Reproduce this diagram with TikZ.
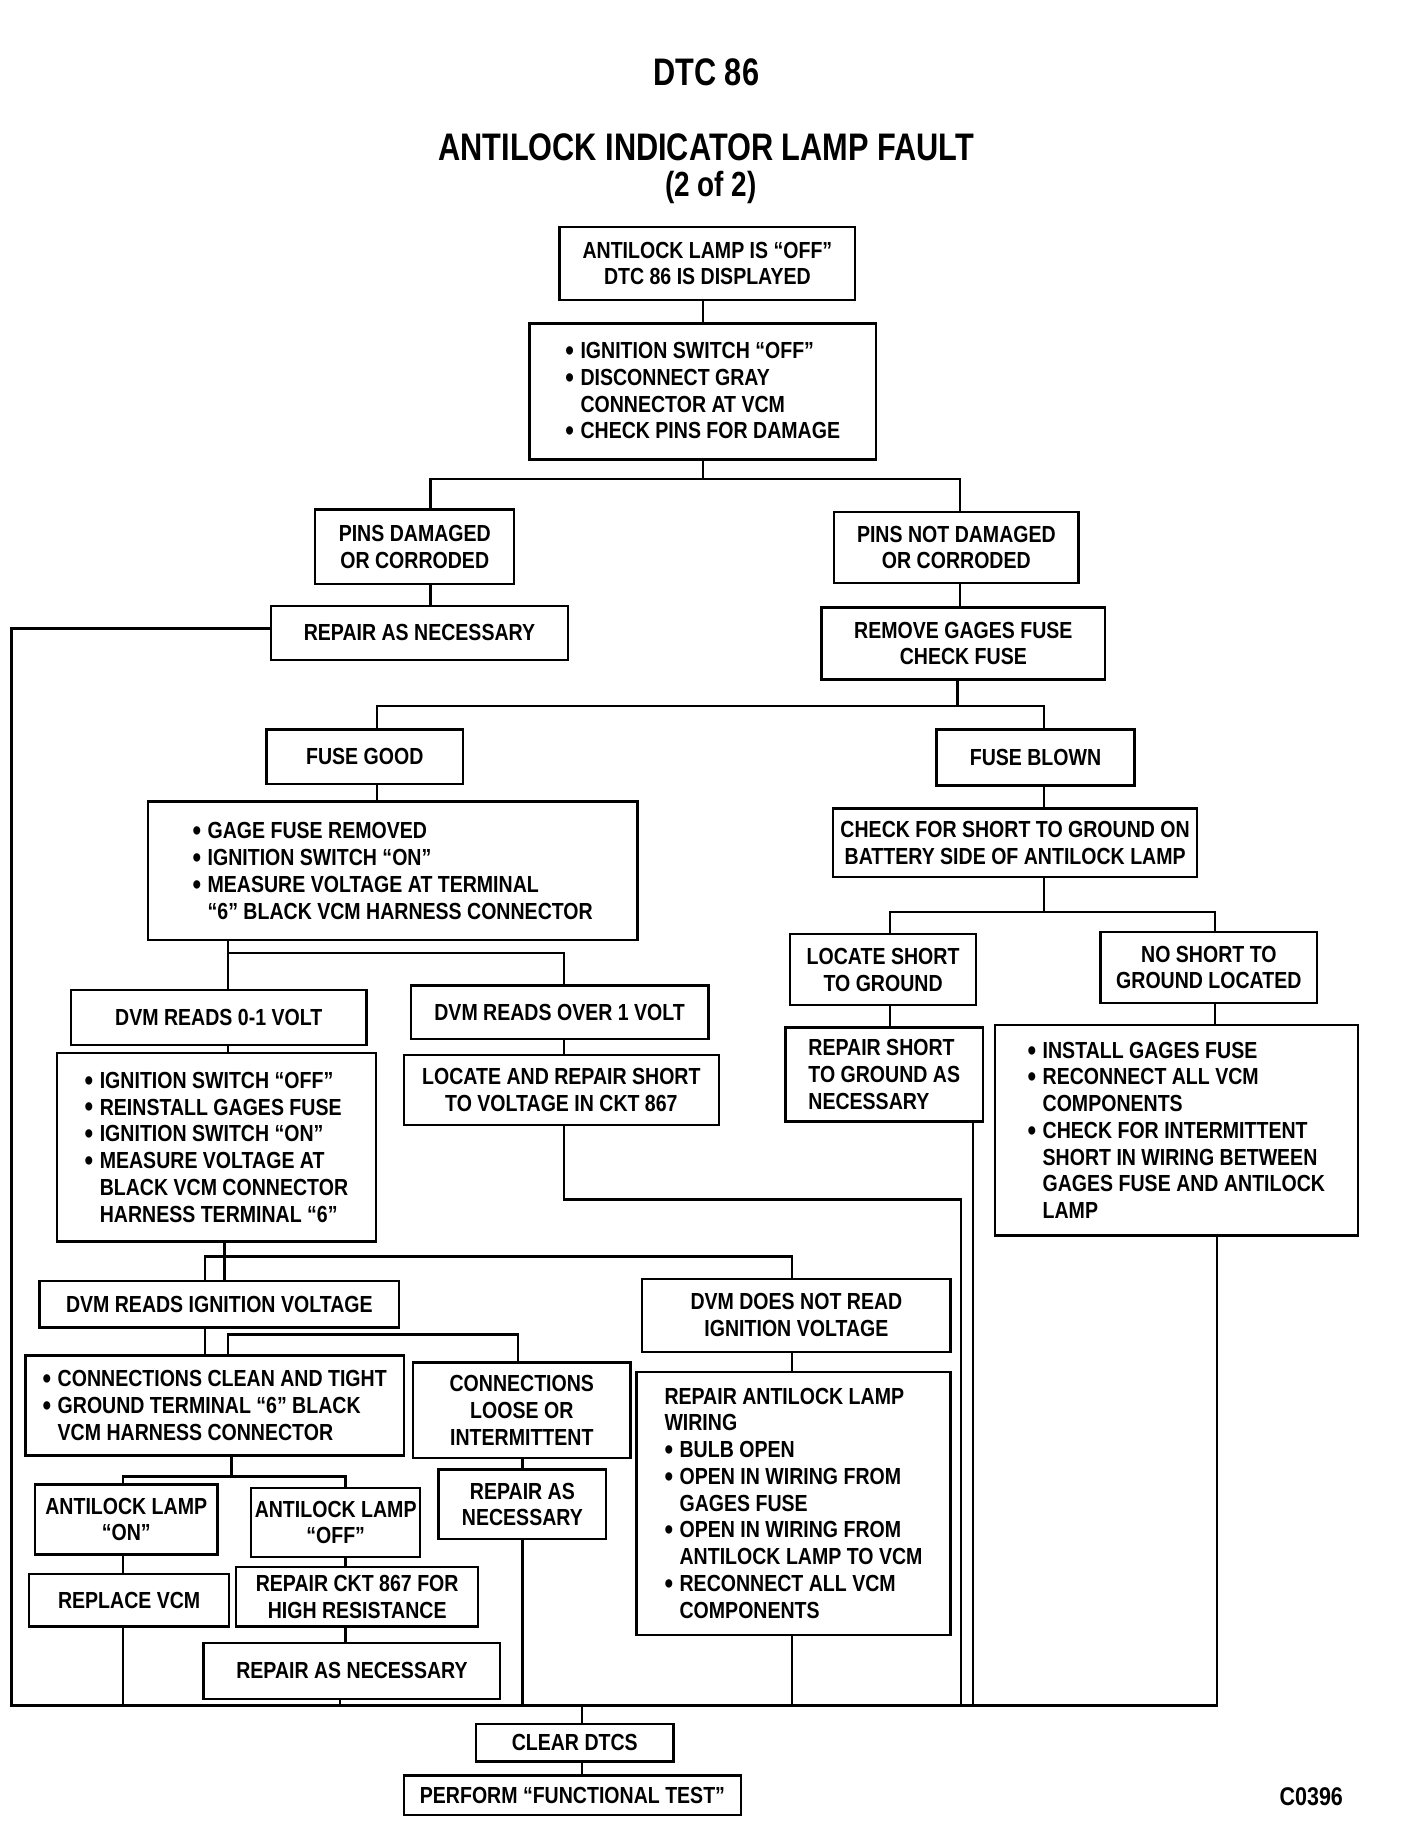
\documentclass[tikz,border=0pt]{standalone}
\usepackage{fontspec}
\newfontfamily\boxfont[FakeStretch=0.84]{Liberation Sans}
\newfontfamily\titlefont[FakeStretch=0.8]{Liberation Sans}
\newcommand{\bu}{\makebox[13pt][l]{\raisebox{-1.6pt}{\fontsize{25}{23}\selectfont•}}}
\newcommand{\ind}{\hspace*{13pt}}
\begin{document}
\begin{tikzpicture}[x=1pt,y=-1pt,
  bx/.style={draw, line width=2pt, inner sep=2pt, align=center,
    font=\boxfont\bfseries\fontsize{20}{23}\selectfont},
  lbx/.style={bx, align=left},
  cn/.style={line width=1.9pt},
  cnb/.style={line width=2.6pt},
  ttl/.style={font=\titlefont\bfseries\fontsize{33}{36}\selectfont, inner sep=0pt}]
\useasboundingbox (0,0) rectangle (1210,1566);
\fill[white] (0,0) rectangle (1210,1566);

% titles
\node[ttl] (t1) at (607,62) {DTC 86};
\node[ttl] (t2) at (607,127) {ANTILOCK INDICATOR LAMP FAULT};
\node[ttl, font=\titlefont\bfseries\fontsize{30}{34}\selectfont] (t3) at (611,161) {(2 of 2)};

% boxes
\node[bx, minimum width=254, minimum height=63] (b1) at (608,226.5) {ANTILOCK LAMP IS “OFF”\\DTC 86 IS DISPLAYED};
\node[lbx, minimum width=298, minimum height=117] (b2) at (604,336.5) {\bu IGNITION SWITCH “OFF”\\\bu DISCONNECT GRAY\\\ind CONNECTOR AT VCM\\\bu CHECK PINS FOR DAMAGE};
\node[bx, minimum width=171, minimum height=64] (pd) at (356.5,470) {PINS DAMAGED\\OR CORRODED};
\node[bx, minimum width=210, minimum height=61] (pnd) at (822,470.5) {PINS NOT DAMAGED\\OR CORRODED};
\node[bx, minimum width=255, minimum height=46] (ran1) at (360.5,544) {REPAIR AS NECESSARY};
\node[bx, minimum width=244, minimum height=62] (rgf) at (828,553) {REMOVE GAGES FUSE\\CHECK FUSE};
\node[bx, minimum width=169, minimum height=47] (fg) at (313.5,650.5) {FUSE GOOD};
\node[bx, minimum width=170, minimum height=48] (fb) at (890,651) {FUSE BLOWN};
\node[lbx, minimum width=421, minimum height=119] (gfr) at (337.5,748.5) {\bu GAGE FUSE REMOVED\\\bu IGNITION SWITCH “ON”\\\bu MEASURE VOLTAGE AT TERMINAL\\\ind “6” BLACK VCM HARNESS CONNECTOR};
\node[bx, minimum width=313, minimum height=59] (cfs) at (872.5,724.5) {CHECK FOR SHORT TO GROUND ON\\BATTERY SIDE OF ANTILOCK LAMP};
\node[bx, minimum width=254, minimum height=47] (dvm0) at (188,874.5) {DVM READS 0-1 VOLT};
\node[bx, minimum width=256, minimum height=46] (dvmo) at (481,870) {DVM READS OVER 1 VOLT};
\node[bx, minimum width=160, minimum height=61] (lsg) at (759,833.5) {LOCATE SHORT\\TO GROUND};
\node[bx, minimum width=186, minimum height=61] (nsg) at (1039,831.5) {NO SHORT TO\\GROUND LOCATED};
\node[lbx, minimum width=274, minimum height=162] (igs) at (186,986) {\bu IGNITION SWITCH “OFF”\\\bu REINSTALL GAGES FUSE\\\bu IGNITION SWITCH “ON”\\\bu MEASURE VOLTAGE AT\\\ind BLACK VCM CONNECTOR\\\ind HARNESS TERMINAL “6”};
\node[bx, minimum width=271, minimum height=60] (lrs) at (482.5,937) {LOCATE AND REPAIR SHORT\\TO VOLTAGE IN CKT 867};
\node[lbx, minimum width=170, minimum height=81] (rsg) at (760,923.5) {REPAIR SHORT\\TO GROUND AS\\NECESSARY};
\node[lbx, minimum width=312, minimum height=181] (igf) at (1011,971.5) {\bu INSTALL GAGES FUSE\\\bu RECONNECT ALL VCM\\\ind COMPONENTS\\\bu CHECK FOR INTERMITTENT\\\ind SHORT IN WIRING BETWEEN\\\ind GAGES FUSE AND ANTILOCK\\\ind LAMP};
\node[bx, minimum width=309, minimum height=40] (driv) at (188.5,1121) {DVM READS IGNITION VOLTAGE};
\node[bx, minimum width=265, minimum height=63] (dnr) at (684.5,1130.5) {DVM DOES NOT READ\\IGNITION VOLTAGE};
\node[lbx, minimum width=325, minimum height=86] (cct) at (184.5,1208) {\bu CONNECTIONS CLEAN AND TIGHT\\\bu GROUND TERMINAL “6” BLACK\\\ind VCM HARNESS CONNECTOR};
\node[bx, minimum width=187, minimum height=82] (cli) at (448.5,1212) {CONNECTIONS\\LOOSE OR\\INTERMITTENT};
\node[lbx, minimum width=270, minimum height=226] (ral) at (682,1292) {REPAIR ANTILOCK LAMP\\WIRING\\\bu BULB OPEN\\\bu OPEN IN WIRING FROM\\\ind GAGES FUSE\\\bu OPEN IN WIRING FROM\\\ind ANTILOCK LAMP TO VCM\\\bu RECONNECT ALL VCM\\\ind COMPONENTS};
\node[bx, minimum width=157, minimum height=60] (alon) at (108.5,1306) {ANTILOCK LAMP\\“ON”};
\node[bx, minimum width=145, minimum height=59] (aloff) at (288.5,1308.5) {ANTILOCK LAMP\\“OFF”};
\node[bx, minimum width=144, minimum height=60] (ran2) at (449,1293) {REPAIR AS\\NECESSARY};
\node[bx, minimum width=172, minimum height=45] (rvcm) at (111,1375.5) {REPLACE VCM};
\node[bx, minimum width=208, minimum height=51] (rckt) at (307,1372.5) {REPAIR CKT 867 FOR\\HIGH RESISTANCE};
\node[bx, minimum width=255, minimum height=48] (ran3) at (302.5,1436) {REPAIR AS NECESSARY};
\node[bx, minimum width=170, minimum height=32] (cd) at (494,1498) {CLEAR DTCS};
\node[bx, minimum width=290, minimum height=34] (pft) at (492,1543) {PERFORM “FUNCTIONAL TEST”};
\node[font=\boxfont\bfseries\fontsize{22}{24}\selectfont, inner sep=0pt] (code) at (1127,1544) {C0396};

% bottom collector line
\coordinate (bl) at (10,1466);
\coordinate (br) at (1046,1466);

% connectors
\draw[cn] ([xshift=-4pt]b1.south) -- (b2.north);
\draw[cn] (b2.south) -- ++(0,16) coordinate (s1);
\draw[cn] ([xshift=13.5pt]pd.north) |- (s1) -| ([xshift=3pt]pnd.north);
\draw[cn] ([xshift=13.5pt]pd.south) -- ([xshift=9.5pt]ran1.north);
\draw[cn] ([xshift=3pt]pnd.south) -- ([xshift=-3pt]rgf.north);
\draw[cn] ([xshift=-5pt]rgf.south) -- ++(0,22) coordinate (s2);
\draw[cn] ([xshift=10.5pt]fg.north) |- (s2) -| ([xshift=7pt]fb.north);
\draw[cn] ([xshift=10.5pt]fg.south) -- ([xshift=-13.5pt]gfr.north);
\draw[cn] ([xshift=7pt]fb.south) -- ([xshift=24.5pt]cfs.north);
\draw[cn] ([xshift=-141.5pt]gfr.south) -- ++(0,10) coordinate (s3);
\draw[cn] ([xshift=8pt]dvm0.north) |- (s3) -| ([xshift=4pt]dvmo.north);
\draw[cn] ([xshift=24.5pt]cfs.south) -- ++(0,29) coordinate (s4);
\draw[cn] ([xshift=6pt]lsg.north) |- (s4) -| ([xshift=5pt]nsg.north);
\draw[cn] ([xshift=8pt]dvm0.south) -- ([xshift=10pt]igs.north);
\draw[cn] ([xshift=4pt]dvmo.south) -- ([xshift=2.5pt]lrs.north);
\draw[cn] ([xshift=6pt]lsg.south) -- ([xshift=5pt]rsg.north);
\draw[cn] ([xshift=5pt]nsg.south) -- ([xshift=33pt]igf.north);
\draw[cn] ([xshift=2.5pt]lrs.south) -- ++(0,63) -- ++(341,0) -- ++(0,436);
\draw[cn] ([xshift=76pt]rsg.south) -- ++(0,502);
\draw[cn] ([xshift=35pt]igf.south) -- ++(0,404);
\draw[cn] ([xshift=7pt]igs.south) -- ([xshift=4.5pt]driv.north);
\draw[cn] ([xshift=-12.5pt]driv.north) -- ++(0,-20) -| ([xshift=-3.5pt]dnr.north);
\draw[cn] ([xshift=-12.5pt]driv.south) -- ([xshift=-8.5pt]cct.north);
\draw[cn] ([xshift=11.5pt]cct.north) -- ++(0,-17) -| ([xshift=-3.5pt]cli.north);
\draw[cn] ([xshift=-3.5pt]dnr.south) -- ([xshift=-1pt]ral.north);
\draw[cn] ([xshift=-1pt]ral.south) -- ++(0,61);
\draw[cn] ([xshift=14.5pt]cct.south) -- ++(0,17) coordinate (s5);
\draw[cn] ([xshift=-2.5pt]alon.north) |- (s5) -| ([xshift=8.5pt]aloff.north);
\draw[cn] ([xshift=0.5pt]cli.south) -- (ran2.north);
\draw[cn] (ran2.south) -- ++(0,143);
\draw[cn] ([xshift=-2.5pt]alon.south) -- ([xshift=-5pt]rvcm.north);
\draw[cn] ([xshift=-5pt]rvcm.south) -- ++(0,68);
\draw[cn] ([xshift=8.5pt]aloff.south) -- ([xshift=-10pt]rckt.north);
\draw[cn] ([xshift=-10pt]rckt.south) -- ([xshift=-5.5pt]ran3.north);
\draw[cn] ([xshift=-10.5pt]ran3.south) -- ++(0,6);
\draw[cnb] ([yshift=4pt]ran1.west) -| (bl) -- (br);
\draw[cn] ([xshift=6pt]cd.north) -- ++(0,-16);
\draw[cn] ([xshift=6pt]cd.south) -- ([xshift=8pt]pft.north);
\end{tikzpicture}
\end{document}
